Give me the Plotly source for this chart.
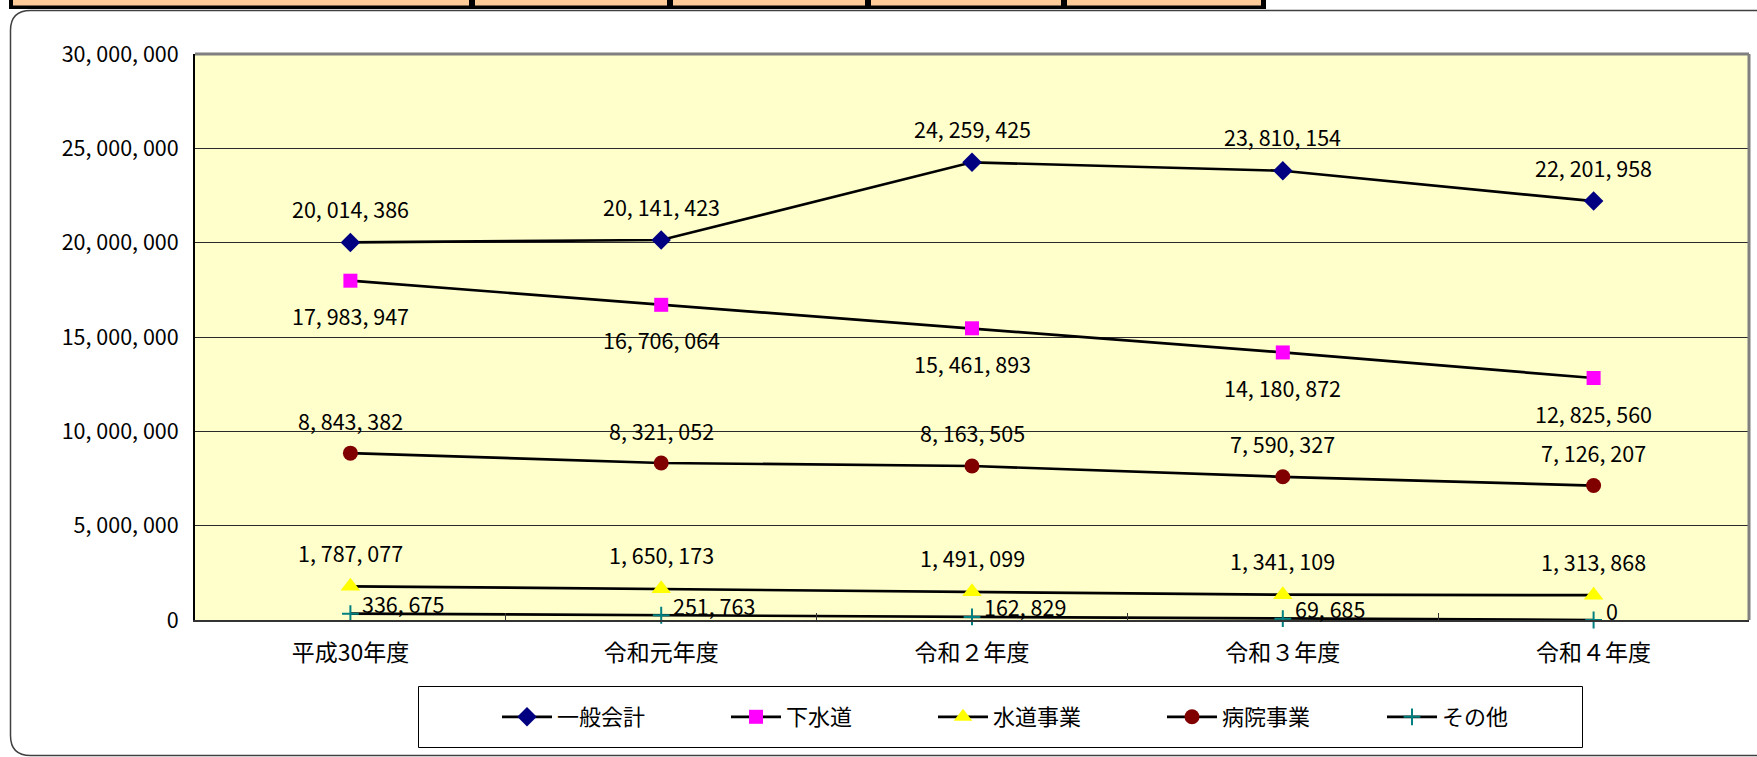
import plotly.graph_objects as go

categories = ["平成30年度", "令和元年度", "令和２年度", "令和３年度", "令和４年度"]
series_names = ["一般会計", "下水道", "水道事業", "病院事業", "その他"]
general = [20014386, 20141423, 24259425, 23810154, 22201958]
sewer = [17983947, 16706064, 15461893, 14180872, 12825560]
water = [1787077, 1650173, 1491099, 1341109, 1313868]
hospital = [8843382, 8321052, 8163505, 7590327, 7126207]
other = [336675, 251763, 162829, 69685, 0]
y_ticks = [0, 5000000, 10000000, 15000000, 20000000, 25000000, 30000000]


def fmt(v):
    return f"{v:,}".replace(",", ", ")


W, H = 1757, 757
L, R, T, B = 195, 1749, 54, 620
PW, PH = R - L, B - T


def px(x):
    return (x - L) / PW


def py(y):
    return (B - y) / PH


FONT = "Noto Sans CJK JP"

series = [
    (series_names[0], general, "diamond", "#000080", 15, 0, 34, "center"),
    (series_names[1], sewer, "square", "#FF00FF", 14, 0, -35, "center"),
    (series_names[2], water, "triangle-up", "#FFFF00", 17, 0, 34, "center"),
    (series_names[3], hospital, "circle", "#800000", 15, 0, 33, "center"),
    (series_names[4], other, "cross-thin", "#008080", 12, 10, 10, "left"),
]
legend_x = [497, 726, 933, 1162, 1382]

fig = go.Figure()
annotations = []
legends = {}
for i, (name, vals, sym, col, size, xs, ys, xa) in enumerate(series):
    marker = dict(symbol=sym, color=col, size=size, line=dict(width=0))
    if sym == "cross-thin":
        marker = dict(symbol=sym, color=col, size=size, line=dict(width=2, color=col))
    lg = "legend" if i == 0 else f"legend{i + 1}"
    fig.add_trace(go.Scatter(
        x=categories, y=vals, name=name, mode="lines+markers",
        line=dict(color="black", width=2.7),
        marker=marker, cliponaxis=False, legend=lg,
    ))
    legends[lg] = dict(
        orientation="v", x=px(legend_x[i]), y=py(717), xanchor="left", yanchor="middle",
        bgcolor="rgba(0,0,0,0)", borderwidth=0, itemwidth=50,
        font=dict(family=FONT, size=22, color="black"), itemclick=False,
    )
    for c, v in zip(categories, vals):
        annotations.append(dict(
            x=c, y=v, xref="x", yref="y", text=fmt(v), showarrow=False,
            xanchor=xa, yanchor="middle", xshift=xs, yshift=ys,
            font=dict(family=FONT, size=21.5, color="black"),
        ))

shapes = []
# header table strip at the top
shapes.append(dict(type="rect", xref="paper", yref="paper",
                   x0=px(9), x1=px(1266), y0=py(-2), y1=py(9),
                   fillcolor="black", line=dict(width=0), layer="above"))
for a, b in [(13, 469), (475, 667), (673, 865), (871, 1061), (1067, 1261)]:
    shapes.append(dict(type="rect", xref="paper", yref="paper",
                       x0=px(a), x1=px(b), y0=py(-2), y1=py(5.5),
                       fillcolor="#FFCC99", line=dict(width=0), layer="above"))
# rounded outer frame
r = 20
fx0, fy0, fx1, fy1 = 10.5, 10.5, 1770, 755.5
path = (f"M {px(fx1)},{py(fy0)} L {px(fx0 + r)},{py(fy0)} "
        f"Q {px(fx0)},{py(fy0)} {px(fx0)},{py(fy0 + r)} "
        f"L {px(fx0)},{py(fy1 - r)} "
        f"Q {px(fx0)},{py(fy1)} {px(fx0 + r)},{py(fy1)} "
        f"L {px(fx1)},{py(fy1)}")
shapes.append(dict(type="path", xref="paper", yref="paper", path=path,
                   line=dict(color="#404040", width=1.5), layer="above"))
# plot border top/right (gray)
shapes.append(dict(type="line", xref="paper", yref="paper",
                   x0=0, x1=1, y0=1, y1=1, line=dict(color="#808080", width=3), layer="above"))
shapes.append(dict(type="line", xref="paper", yref="paper",
                   x0=1, x1=1, y0=0, y1=1, line=dict(color="#808080", width=3), layer="above"))
# legend box
shapes.append(dict(type="rect", xref="paper", yref="paper",
                   x0=px(418.5), x1=px(1582.5), y0=py(686.5), y1=py(747.5),
                   fillcolor="white", line=dict(color="black", width=1), layer="below"))

fig.update_layout(
    width=W, height=H,
    margin=dict(l=L, r=W - R, t=T, b=H - B, pad=0, autoexpand=False),
    paper_bgcolor="white", plot_bgcolor="#FFFFCC",
    font=dict(family=FONT, size=20, color="black"),
    showlegend=True,
    annotations=annotations,
    shapes=shapes,
    xaxis=dict(
        type="category", categoryorder="array", categoryarray=categories,
        range=[-0.5, 4.5], showgrid=False, showline=True, linecolor="#333333", linewidth=2,
        ticks="inside", tickson="boundaries", ticklen=7, tickcolor="#333333", tickwidth=1,
        tickfont=dict(family=FONT, size=23, color="black"), ticklabelstandoff=11,
        zeroline=False,
    ),
    yaxis=dict(
        range=[0, 30000000], tickvals=y_ticks, ticktext=[fmt(v) for v in y_ticks],
        showgrid=True, gridcolor="#2a2a2a", gridwidth=1,
        showline=True, linecolor="black", linewidth=2, ticks="", zeroline=False,
        tickfont=dict(family=FONT, size=21.5, color="black"), ticklabelstandoff=10,
    ),
)
fig.update_layout(**legends)

fig.write_html("out.html", config={"displayModeBar": False},
               post_script="document.body.style.margin='0';")
